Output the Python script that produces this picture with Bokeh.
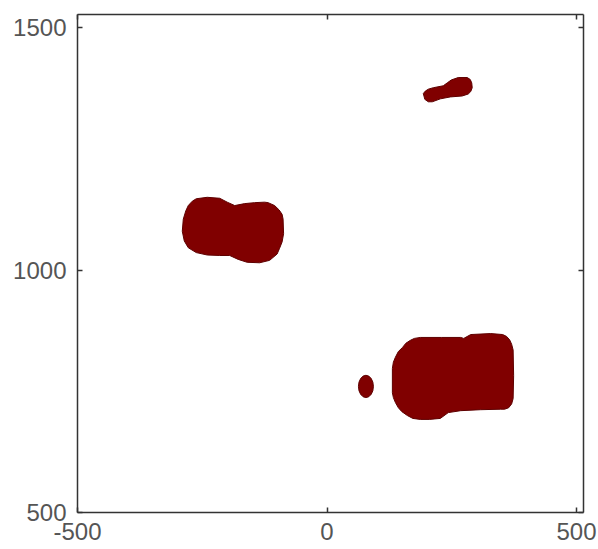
from bokeh.plotting import figure
from bokeh.models import Range1d, FixedTicker, LinearAxis
from bokeh.embed import file_html
from bokeh.resources import INLINE

# axis ticks
x_ticks = [-500, 0, 500]
y_ticks = [500, 1000, 1500]
x_tick_labels = {-500: "-500", 0: "0", 500: "500"}
y_tick_labels = {500: "500", 1000: "1000", 1500: "1500"}

# blob outlines (data units)
blob_left_x = [-290, -288, -283, -278, -270, -262, -240, -215, -200, -185, -165, -145, -125, -118, -105, -96, -90, -88,
               -87, -90, -95, -100, -115, -135, -160, -178, -195, -215, -240, -262, -278, -286]
blob_left_y = [1080, 1105, 1122, 1133, 1142, 1147, 1150, 1148, 1140, 1133, 1137, 1139, 1140, 1139, 1133, 1124, 1115, 1105,
               1075, 1058, 1045, 1033, 1020, 1015, 1016, 1022, 1030, 1030, 1031, 1036, 1046, 1060]

blob_big_x = [131, 131, 133, 137, 143, 151, 158, 167, 175, 187, 230, 268, 274, 288, 328, 352, 360, 366, 370, 373,
              374, 373, 370, 364, 356, 348, 308, 268, 243, 227, 205, 187, 172, 161, 150, 143, 137, 133]
blob_big_y = [747, 797, 810, 820, 832, 840, 849, 855, 859, 861, 861, 861, 859, 867, 869, 867, 863, 856, 847, 835,
              782, 735, 724, 716, 713, 713, 712, 710, 706, 694, 692, 692, 694, 700, 708, 716, 727, 737]

blob_top_x = [193, 197, 203, 213, 233, 241, 249, 263, 281, 287, 290, 291, 288, 283, 271, 247, 227, 211, 203, 196]
blob_top_y = [1364, 1369, 1373, 1376, 1380, 1386, 1392, 1397, 1397, 1393, 1386, 1376, 1368, 1363, 1359, 1357, 1353, 1347, 1347, 1352]

dot_x = [78]
dot_y = [760]
dot_w = [30]
dot_h = [46]

FILL = "#800000"
EDGE = "#5e0000"
AXIS = "#333333"
LABEL = "#555555"
FONT = "Liberation Sans"

p = figure(width=598, height=549, output_backend="svg", toolbar_location=None,
           x_range=Range1d(-500, 514), y_range=Range1d(500, 1527),
           min_border_left=77, min_border_right=15, min_border_top=14, min_border_bottom=37)
p.outline_line_color = None
p.xgrid.visible = False
p.ygrid.visible = False
p.background_fill_color = "white"

p.patches([blob_left_x, blob_big_x, blob_top_x], [blob_left_y, blob_big_y, blob_top_y],
          fill_color=FILL, line_color=EDGE, line_width=1)
p.ellipse(x=dot_x, y=dot_y, width=dot_w, height=dot_h,
          fill_color=FILL, line_color=EDGE, line_width=1)

def style(ax, ticks, labels=None):
    ax.ticker = FixedTicker(ticks=ticks)
    ax.axis_line_color = AXIS
    ax.axis_line_width = 1.5
    ax.major_tick_line_color = AXIS
    ax.major_tick_line_width = 1.5
    ax.major_tick_in = 5
    ax.major_tick_out = 0
    ax.minor_tick_line_color = None
    if labels is not None:
        ax.major_label_overrides = labels
        ax.major_label_text_font = FONT
        ax.major_label_text_font_size = "24px"
        ax.major_label_text_color = LABEL
    else:
        ax.major_label_overrides = {t: "" for t in ticks}
        ax.major_label_text_color = None
        ax.major_label_standoff = 0

xa = p.xaxis[0]
ya = p.yaxis[0]
style(xa, x_ticks, x_tick_labels)
style(ya, y_ticks, y_tick_labels)
xa.major_label_standoff = 10
ya.major_label_standoff = 11

top = LinearAxis()
right = LinearAxis()
style(top, x_ticks)
style(right, y_ticks)
p.add_layout(top, "above")
p.add_layout(right, "right")

open("out.html", "w").write(file_html(p, INLINE))
